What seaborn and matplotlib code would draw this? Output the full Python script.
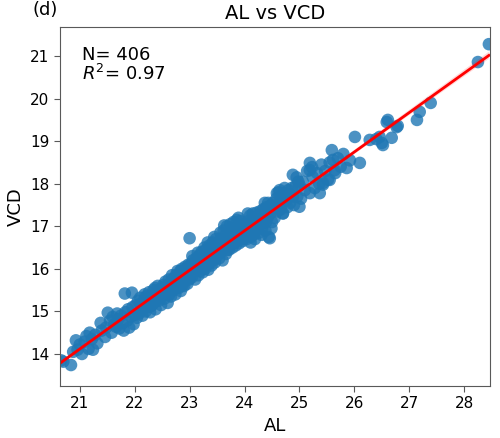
import numpy as np
import pandas as pd
import seaborn as sns
import matplotlib
matplotlib.use("Agg")
import matplotlib.pyplot as plt

# values (axial length vs vitreous chamber depth)
al = [
    20.66, 20.70, 20.84, 20.88, 20.93, 20.96, 21.00, 21.04, 21.09, 21.12, 21.16,
    21.18, 21.22, 21.24, 21.28, 21.32, 21.38, 21.40, 21.46, 21.48, 21.51, 21.55,
    21.58, 21.60, 21.63, 21.66, 21.68, 21.70, 21.72, 21.75, 21.78, 21.80, 21.82,
    21.83, 21.86, 21.88, 21.90, 21.93, 21.95, 21.96, 21.98, 22.00,
    22.02, 22.04, 22.06, 22.08, 22.10, 22.12, 22.14, 22.16, 22.18, 22.20, 22.22,
    22.24, 22.26, 22.28, 22.30, 22.32, 22.34, 22.36, 22.38, 22.40, 22.42, 22.44,
    22.46, 22.48, 22.50, 22.11, 22.21, 22.29, 22.37, 22.45,
    22.52, 22.54, 22.56, 22.58, 22.60, 22.62, 22.64, 22.66, 22.68, 22.70, 22.72,
    22.74, 22.76, 22.78, 22.80, 22.82, 22.84, 22.86, 22.88, 22.90, 22.92, 22.94,
    22.96, 22.98, 23.00, 23.00, 22.53, 22.57, 22.63, 22.67, 22.71, 22.75, 22.79,
    22.83, 22.87, 22.91, 22.95, 22.99,
    23.02, 23.04, 23.06, 23.08, 23.10, 23.12, 23.14, 23.16, 23.18, 23.20, 23.22,
    23.24, 23.26, 23.28, 23.30, 23.32, 23.34, 23.36, 23.38, 23.40, 23.42, 23.44,
    23.46, 23.48, 23.50, 23.03, 23.07, 23.11, 23.15, 23.19, 23.23, 23.27, 23.31,
    23.35, 23.39, 23.43, 23.47, 23.05, 23.25, 23.45, 23.33, 23.41, 23.49,
    23.52, 23.54, 23.56, 23.58, 23.60, 23.62, 23.64, 23.66, 23.68, 23.70, 23.72,
    23.74, 23.76, 23.78, 23.80, 23.82, 23.84, 23.86, 23.88, 23.90, 23.92, 23.94,
    23.96, 23.98, 24.00, 23.53, 23.57, 23.61, 23.65, 23.69, 23.73, 23.77, 23.81,
    23.85, 23.89, 23.93, 23.97, 23.63, 23.75, 23.87, 23.99,
    24.02, 24.04, 24.06, 24.08, 24.10, 24.12, 24.14, 24.16, 24.18, 24.20, 24.22,
    24.24, 24.26, 24.28, 24.30, 24.32, 24.34, 24.36, 24.38, 24.40, 24.42, 24.44,
    24.46, 24.48, 24.50, 24.03, 24.07, 24.11, 24.15, 24.19, 24.23, 24.27, 24.31,
    24.35, 24.39, 24.43, 24.47, 24.49,
    24.52, 24.55, 24.58, 24.60, 24.62, 24.64, 24.66, 24.68, 24.70, 24.72, 24.75,
    24.78, 24.80, 24.83, 24.86, 24.88, 24.88, 24.90, 24.93, 24.96, 24.98, 25.00,
    24.57, 24.65, 24.73, 24.82, 24.95,
    25.03, 25.06, 25.10, 25.14, 25.19, 25.19, 25.19, 25.23, 25.24, 25.28, 25.32,
    25.36, 25.40, 25.43, 25.43, 25.47, 25.52, 25.55, 25.59, 25.61, 25.65, 25.70,
    25.75, 25.80, 25.86, 25.92, 26.01, 26.10,
    25.64, 25.55, 25.37, 24.59, 24.37, 25.00, 24.70,
    26.28, 26.40, 26.46, 26.50, 26.52, 26.59, 26.61, 26.68, 26.77, 26.79, 27.14,
    27.19, 27.39, 28.25, 28.45,
]
vcd = [
    13.85, 13.82, 13.74, 14.05, 14.32, 14.10, 14.22, 14.00, 14.29, 14.42, 14.12,
    14.50, 14.35, 14.10, 14.45, 14.25, 14.73, 14.55, 14.40, 14.62, 14.97, 14.78,
    14.50, 14.87, 14.70, 14.64, 14.95, 14.82, 14.60, 14.90, 14.72, 14.55, 15.42,
    14.98, 14.78, 15.05, 14.62, 14.88, 15.44, 15.10, 14.70, 14.92,
    15.15, 14.85, 15.25, 14.95, 15.32, 15.05, 14.90, 15.22, 15.40, 15.00, 15.28,
    15.10, 15.45, 14.98, 15.35, 15.15, 15.50, 15.22, 15.05, 15.42, 15.60, 15.25,
    15.52, 15.15, 15.38, 15.18, 15.35, 15.12, 15.55, 15.30,
    15.62, 15.30, 15.70, 15.45, 15.20, 15.75, 15.55, 15.35, 15.85, 15.50, 15.78,
    15.40, 15.62, 15.95, 15.55, 15.85, 15.48, 16.00, 15.70, 15.60, 16.05, 15.90,
    15.65, 16.10, 16.72, 15.80, 15.40, 15.58, 15.40, 15.72, 15.60, 15.85, 15.58,
    15.95, 15.62, 15.75, 16.02, 15.75,
    16.10, 15.80, 16.20, 15.95, 15.75, 16.25, 16.00, 15.85, 16.32, 16.05, 16.40,
    15.92, 16.28, 16.00, 16.45, 16.10, 15.98, 16.55, 16.30, 16.08, 16.62, 16.40,
    16.15, 16.70, 16.30, 15.92, 16.05, 16.15, 16.38, 15.95, 16.20, 16.50, 16.30,
    16.12, 16.48, 16.20, 16.52, 16.30, 16.05, 16.75, 16.62, 16.40, 16.45,
    16.60, 16.25, 16.85, 16.40, 16.20, 16.90, 16.65, 16.35, 17.00, 16.75, 16.45,
    17.05, 16.80, 16.50, 17.10, 16.90, 16.55, 17.15, 16.95, 16.60, 17.12, 16.88,
    16.65, 17.05, 16.80, 16.45, 16.70, 16.58, 16.80, 16.45, 16.68, 16.95, 16.62,
    16.85, 17.20, 16.70, 16.95, 17.02, 16.58, 16.68, 16.72,
    17.05, 16.70, 17.30, 16.85, 17.25, 16.75, 17.10, 16.80, 17.20, 16.90, 17.32,
    17.00, 16.85, 17.35, 17.05, 16.95, 17.40, 17.15, 16.90, 17.45, 17.20, 16.75,
    16.72, 17.50, 17.10, 16.95, 17.12, 16.62, 17.30, 16.70, 17.15, 17.25, 16.80,
    17.28, 17.10, 17.55, 17.30, 16.95,
    17.55, 17.20, 17.65, 17.35, 17.80, 17.85, 17.40, 17.72, 17.30, 17.78, 17.60,
    17.45, 17.85, 17.55, 17.90, 18.21, 17.69, 17.50, 17.95, 17.70, 18.05, 17.97,
    17.45, 17.60, 17.90, 17.75, 18.15,
    17.65, 18.05, 17.85, 18.30, 17.78, 18.32, 18.49, 18.39, 18.16, 17.90, 18.25,
    18.00, 18.45, 18.02, 17.98, 18.30, 18.10, 18.50, 18.79, 18.56, 18.25, 18.60,
    18.40, 18.70, 18.37, 18.55, 19.10, 18.49,
    18.32, 18.09, 17.78, 17.78, 17.55, 17.46, 17.31,
    19.03, 19.05, 19.10, 18.96, 18.91, 19.45, 19.50, 19.08, 19.33, 19.36, 19.50,
    19.69, 19.90, 20.86, 21.28,
]
n_label = "N= 406"
r2_label = "$R^2$= 0.97"

df = pd.DataFrame({"AL": al, "VCD": vcd})

fig = plt.figure(figsize=(5, 4.38), dpi=100)
ax = fig.add_axes([0.12, 0.119, 0.86, 0.819])

sns.regplot(
    data=df,
    x="AL",
    y="VCD",
    ax=ax,
    color="#1f77b4",
    scatter_kws={"s": 82, "alpha": 0.8, "edgecolor": "none"},
    line_kws={"color": "red", "lw": 2},
)

ax.set_xlim(20.64, 28.47)
ax.set_ylim(13.25, 21.68)
ax.set_xticks([21, 22, 23, 24, 25, 26, 27, 28])
ax.set_yticks([14, 15, 16, 17, 18, 19, 20, 21])
ax.tick_params(labelsize=11, length=4, color="0.35")
for sp in ax.spines.values():
    sp.set_color("0.35")

ax.set_xlabel("AL", fontsize=13)
ax.set_ylabel("VCD", fontsize=13)
ax.set_title("AL vs VCD", fontsize=14, pad=6)

ax.text(0.051, 0.947, n_label + "\n" + r2_label, transform=ax.transAxes,
        fontsize=13, va="top", ha="left", linespacing=1.0)

fig.text(0.064, 0.966, "(d)", fontsize=13, ha="left", va="baseline")

fig.savefig("out.png", dpi=100)
plt.close()
